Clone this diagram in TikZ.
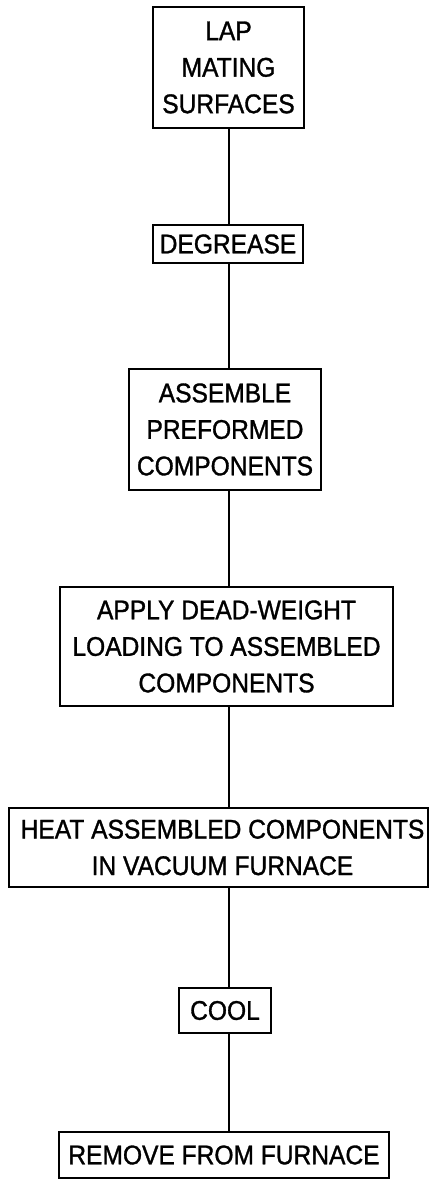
\documentclass[tikz,border=0pt]{standalone}
\usepackage{fontspec}
\setmainfont{Liberation Sans}[FakeStretch=0.91,FakeBold=1.2]
\begin{document}
\begin{tikzpicture}[x=1pt,y=-1pt,
  stepbox/.style={draw, line width=1.8pt, inner sep=0pt, align=center,
    font=\fontsize{27}{36.5}\selectfont},
  link/.style={line width=1.8pt}]
\useasboundingbox (0,0) rectangle (429,1180);
\coordinate (spine) at (229,0);
\node[stepbox, minimum width=151pt, minimum height=121pt] (lap) at (228.5,67.5) {LAP\\MATING\\SURFACES};
\node[stepbox, minimum width=150pt, minimum height=38pt] (deg) at (228,244) {DEGREASE};
\node[stepbox, minimum width=192pt, minimum height=121pt] (asm) at (225,429.5) {ASSEMBLE\\PREFORMED\\COMPONENTS};
\node[stepbox, minimum width=333pt, minimum height=119pt] (app) at (226.5,646.5) {APPLY DEAD-WEIGHT\\LOADING TO ASSEMBLED\\COMPONENTS};
\node[stepbox, minimum width=419pt, minimum height=79pt] (heat) at (218.5,847.5) {\hspace*{8pt}HEAT ASSEMBLED COMPONENTS\\\hspace*{8pt}IN VACUUM FURNACE};
\node[stepbox, minimum width=92pt, minimum height=45pt] (cool) at (225,1010.5) {COOL};
\node[stepbox, minimum width=330pt, minimum height=46pt] (rem) at (224,1155) {REMOVE FROM FURNACE};
\draw[link] (lap.south -| spine) -- (deg.north -| spine);
\draw[link] (deg.south -| spine) -- (asm.north -| spine);
\draw[link] (asm.south -| spine) -- (app.north -| spine);
\draw[link] (app.south -| spine) -- (heat.north -| spine);
\draw[link] (heat.south -| spine) -- (cool.north -| spine);
\draw[link] (cool.south -| spine) -- (rem.north -| spine);
\end{tikzpicture}
\end{document}
